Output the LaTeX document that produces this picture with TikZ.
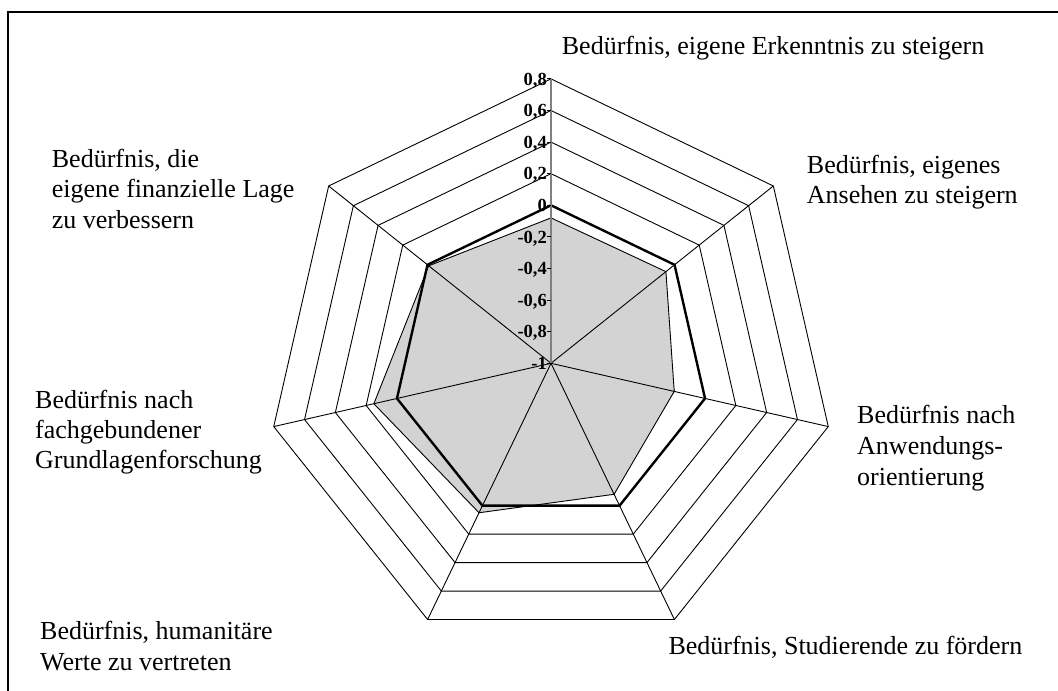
\documentclass[tikz,border=0pt]{standalone}
\usepackage{fontspec}
\setmainfont{Liberation Serif}
\usetikzlibrary{calc}
\definecolor{fillgray}{RGB}{211,211,211}
\definecolor{axisgray}{RGB}{128,128,128}
\begin{document}
\begin{tikzpicture}[x=1pt,y=1pt,
  ring/.style={draw=black,line width=0.9pt,line join=miter},
  spoke/.style={draw=black,line width=0.9pt},
  series/.style={draw=black,line width=2.4pt,line join=miter},
  area/.style={fill=fillgray,draw=black,line width=0.9pt,line join=miter},
  valaxis/.style={draw=axisgray,line width=1.3pt},
  tick/.style={draw=black,line width=0.9pt},
  ticklabel/.style={font=\fontsize{18.5}{21}\selectfont\bfseries,inner sep=0pt,anchor=base east},
  catlabel/.style={font=\fontsize{26}{31}\selectfont,inner sep=0pt,anchor=base west},
  frame/.style={draw=black,line width=1.3pt}]
\useasboundingbox (0,0) rectangle (1058,691);
\def\R{31.6}
\coordinate (C) at (551,327.7);
% outer vertices
\foreach \i in {0,...,6}{
  \coordinate (o\i) at ($(C)+(90-\i*360/7:9*\R pt)$);
}
% rings
\foreach \k in {1,...,9}{
  \draw[ring,shift={(C)}] (90:\k*\R pt) -- (38.5714:\k*\R pt) -- (-12.8571:\k*\R pt)
    -- (-64.2857:\k*\R pt) -- (-115.7143:\k*\R pt) -- (-167.1429:\k*\R pt)
    -- (141.4286:\k*\R pt) -- cycle;
}
% grey data area
\filldraw[area,shift={(C)}] (90:145.4pt) -- (38.5714:147pt) -- (-12.8571:126.4pt)
  -- (-64.2857:145.4pt) -- (-115.7143:165.9pt) -- (-167.1429:181.7pt)
  -- (141.4286:156.4pt) -- cycle;
% spokes
\foreach \i in {1,...,6}{
  \draw[spoke] (C) -- (o\i);
}
% bold series
\draw[series,shift={(C)}] (90:158pt) -- (38.5714:158pt) -- (-12.8571:158pt)
  -- (-64.2857:158pt) -- (-115.7143:158pt) -- (-167.1429:158pt)
  -- (141.4286:158pt) -- cycle;
% value axis
\draw[valaxis] (C) -- (o0);
% ticks and tick labels
\foreach \k/\t in {0/{-1},1/{-0,8},2/{-0,6},3/{-0,4},4/{-0,2},5/{0},6/{0,2},7/{0,4},8/{0,6},9/{0,8}}{
  \coordinate (tk\k) at ($(C)+(0,\k*\R)$);
  \coordinate (tl\k) at ($(tk\k)+(-4,0)$);
  \draw[tick] (tl\k) -- (tk\k);
  \node[ticklabel] (lab\k) at ($(tk\k)+(-4,-6.2)$) {\t};
}
% category labels
\node[catlabel] (c1) at (561.7,636) {Bedürfnis, eigene Erkenntnis zu steigern};
\node[catlabel] (c2a) at (806.7,517.7) {Bedürfnis, eigenes};
\node[catlabel] (c2b) at (806.7,487.0) {Ansehen zu steigern};
\node[catlabel] (c3a) at (857,267) {Bedürfnis nach};
\node[catlabel] (c3b) at (857,236.3) {Anwendungs-};
\node[catlabel] (c3c) at (857,205.6) {orientierung};
\node[catlabel] (c4) at (668.3,36) {Bedürfnis, Studierende zu fördern};
\node[catlabel] (c5a) at (40,51) {Bedürfnis, humanitäre};
\node[catlabel] (c5b) at (40,20.3) {Werte zu vertreten};
\node[catlabel] (c6a) at (35,282.7) {Bedürfnis nach};
\node[catlabel] (c6b) at (35,252.7) {fachgebundener};
\node[catlabel] (c6c) at (35,222.7) {Grundlagenforschung};
\node[catlabel] (c7a) at (51.7,523.7) {Bedürfnis, die};
\node[catlabel] (c7b) at (51.7,493.2) {eigene finanzielle Lage};
\node[catlabel] (c7c) at (51.7,462.7) {zu verbessern};
% frame (only left and top edges fall inside the picture)
\coordinate (f1) at (8,-10);
\coordinate (f2) at (8,679);
\coordinate (f3) at (1070,679);
\draw[frame] (f1) -- (f2) -- (f3);
\end{tikzpicture}
\end{document}
